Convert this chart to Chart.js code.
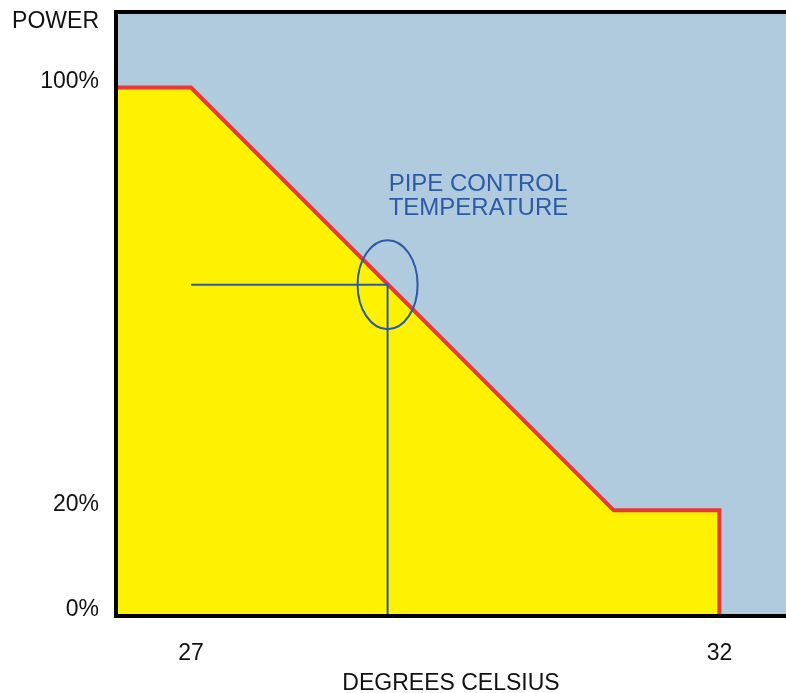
<!DOCTYPE html>
<html>
<head>
<meta charset="utf-8">
<script src="https://cdn.jsdelivr.net/npm/chart.js@4"></script>
<style>
  body { margin: 0; background: #fff; }
  #powerChart { display: block; }
</style>
</head>
<body>
<canvas id="powerChart" width="786" height="693"></canvas>
<script>
// power curve (degrees celsius -> % power)
const tempPoints = [26.29, 27, 31, 32, 32];
const powerPoints = [100, 100, 20, 20, 0];

// pipe control temperature marker
const markerTemps = [27, 28.86, 28.86];
const markerPower = [62.7, 62.7, 0];

const yTickValues = [0, 20, 100];
const yTickLabels = ['0%', '20%', '100%'];
const xTickValues = [27, 32];
const noteLines = ['PIPE CONTROL', 'TEMPERATURE'];

const toXY = (xs, ys) => xs.map((x, i) => ({ x: x, y: ys[i] }));

// background, annotation text, ellipse and frame
const decorations = {
    id: 'decorations',
    beforeDatasetsDraw(chart) {
        const { ctx, chartArea } = chart;
        ctx.save();
        ctx.fillStyle = '#b0cade';
        ctx.fillRect(chartArea.left, chartArea.top, chartArea.right - chartArea.left, chartArea.bottom - chartArea.top);
        ctx.restore();
    },
    afterDraw(chart) {
        const { ctx, chartArea, scales } = chart;
        const x = scales.x, y = scales.y;
        ctx.save();

        // ellipse round the crossing point
        const cx = x.getPixelForValue(markerTemps[1]);
        const cy = y.getPixelForValue(markerPower[0]);
        ctx.strokeStyle = '#2c5aa8';
        ctx.lineWidth = 2;
        ctx.beginPath();
        ctx.ellipse(cx, cy, 30, 44.5, 0, 0, Math.PI * 2);
        ctx.stroke();

        // note text
        ctx.fillStyle = '#2c5aa8';
        ctx.font = '24px "Liberation Sans", Arial, sans-serif';
        ctx.textAlign = 'left';
        ctx.textBaseline = 'middle';
        const tx = x.getPixelForValue(28.87);
        const ty = y.getPixelForValue(81.6);
        noteLines.forEach((line, i) => ctx.fillText(line, tx, ty + i * 23.5));

        // y axis caption
        ctx.fillStyle = '#111';
        ctx.font = '23px "Liberation Sans", Arial, sans-serif';
        ctx.textAlign = 'right';
        ctx.fillText('POWER', 99, 22);

        // top frame line
        ctx.strokeStyle = '#000';
        ctx.lineWidth = 4;
        ctx.beginPath();
        ctx.moveTo(chartArea.left - 2, chartArea.top);
        ctx.lineTo(chartArea.right, chartArea.top);
        ctx.stroke();
        ctx.restore();
    }
};

new Chart(document.getElementById('powerChart'), {
    type: 'scatter',
    data: {
        datasets: [{
            data: toXY(tempPoints, powerPoints),
            order: 1,
            showLine: true,
            fill: 'origin',
            backgroundColor: '#fff200',
            borderColor: '#e8383a',
            borderWidth: 4,
            pointRadius: 0,
            tension: 0
        }, {
            data: toXY(markerTemps, markerPower),
            order: 0,
            showLine: true,
            fill: false,
            borderColor: '#2c5aa8',
            borderWidth: 2,
            pointRadius: 0,
            tension: 0
        }]
    },
    plugins: [decorations],
    options: {
        responsive: false,
        animation: false,
        layout: { padding: { top: 12, right: 0, left: 0, bottom: 0 } },
        plugins: {
            legend: { display: false },
            tooltip: { enabled: false }
        },
        scales: {
            x: {
                type: 'linear',
                min: 26.29,
                max: 32.63,
                afterFit: (scale) => {
                    scale.height = 77;
                    scale.paddingLeft = 0;
                    scale.paddingRight = 0;
                },
                afterBuildTicks: (scale) => { scale.ticks = xTickValues.map(v => ({ value: v })); },
                grid: { display: false, drawTicks: false },
                border: { display: true, color: '#000', width: 4, z: 1 },
                ticks: {
                    padding: 24,
                    color: '#111',
                    font: { family: '"Liberation Sans", Arial, sans-serif', size: 23 },
                    maxRotation: 0,
                    callback: (v) => String(v)
                },
                title: {
                    display: true,
                    text: 'DEGREES CELSIUS',
                    color: '#111',
                    padding: 0,
                    font: { family: '"Liberation Sans", Arial, sans-serif', size: 23, lineHeight: 0.85 }
                }
            },
            y: {
                type: 'linear',
                min: 0,
                max: 114.3,
                afterFit: (scale) => {
                    scale.width = 116;
                    scale.paddingTop = 0;
                    scale.paddingBottom = 0;
                },
                afterBuildTicks: (scale) => { scale.ticks = yTickValues.map(v => ({ value: v })); },
                grid: { display: false, drawTicks: false },
                border: { display: true, color: '#000', width: 4, z: 1 },
                ticks: {
                    padding: 17,
                    labelOffset: -6,
                    color: '#111',
                    font: { family: '"Liberation Sans", Arial, sans-serif', size: 23 },
                    callback: (v) => yTickLabels[yTickValues.indexOf(v)]
                }
            }
        }
    }
});
</script>
</body>
</html>
